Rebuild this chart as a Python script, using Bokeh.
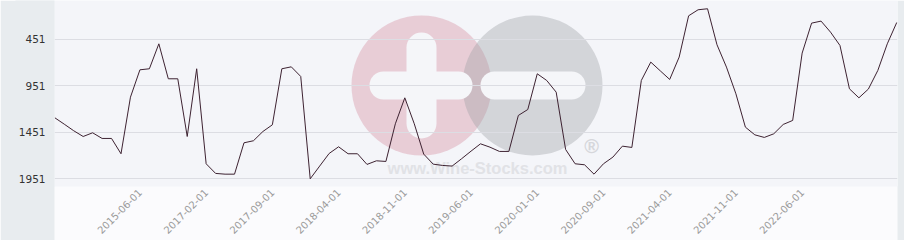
import math
from bokeh.plotting import figure
from bokeh.models import FixedTicker, Range1d, LinearAxis
from bokeh.embed import file_html
from bokeh.resources import INLINE
from bokeh.core.properties import value

# ---- data ----
ranks = [1295, 1364, 1435, 1497, 1457, 1518, 1518, 1683, 1073, 778,
         767, 498, 875, 875, 1497, 767, 1791, 1895, 1903, 1903,
         1565, 1543, 1443, 1371, 767, 746, 850, 1953, 1816, 1680,
         1608, 1683, 1683, 1798, 1759, 1766, 1360, 1080, 1360, 1687,
         1795, 1809, 1816, 1737, 1655, 1576, 1612, 1658, 1658, 1270,
         1206, 821, 893, 1019, 1637, 1791, 1802, 1903, 1791, 1719,
         1601, 1615, 893, 695, 789, 882, 641, 196, 131, 120,
         508, 749, 1037, 1396, 1479, 1507, 1468, 1367, 1324, 598,
         275, 253, 372, 516, 983, 1080, 986, 785, 498, 268]
idx = list(range(len(ranks)))
tick_pos = [9, 16, 23, 30, 37, 44, 51, 58, 65, 72, 79]
tick_labels = ["2015-06-01", "2017-02-01", "2017-09-01", "2018-04-01",
               "2018-11-01", "2019-06-01", "2020-01-01", "2020-09-01",
               "2021-04-01", "2021-11-01", "2022-06-01"]
y_ticks = [451, 951, 1451, 1951]

# ---- figure ----
X0, X1 = -0.03, 89.08
Y_BOTTOM, Y_TOP = 2036, 31
FL, FW, FH = 54, 843, 186
LIGHT = "#fbfbfd"
PANEL = "#e8ecef"
FRAME = "#f4f5f9"

p = figure(width=904, height=240, output_backend="svg", toolbar_location=None,
           x_range=Range1d(X0, X1), y_range=Range1d(Y_BOTTOM, Y_TOP),
           min_border_left=FL, min_border_right=904 - FL - FW,
           min_border_top=0, min_border_bottom=240 - FH)
p.background_fill_color = FRAME
p.border_fill_color = PANEL
p.outline_line_color = None

def sx(px):
    return X0 + (px - FL) / FW * (X1 - X0)

def sy(py):
    return Y_TOP + py / FH * (Y_BOTTOM - Y_TOP)

# ---- watermark (decoration) ----
r1 = p.scatter([sx(421)], [sy(85)], marker="circle", size=140,
               fill_color="#c8657f", fill_alpha=0.28, line_color=None)
r2 = p.scatter([sx(532)], [sy(85)], marker="circle", size=140,
               fill_color="#9ea0a6", fill_alpha=0.38, line_color=None)
r3 = p.line([sx(421), sx(421)], [sy(47), sy(123)], line_width=30,
            line_cap="round", line_color="#f5f6f9")
r4 = p.line([sx(383), sx(458)], [sy(85), sy(85)], line_width=28,
            line_cap="round", line_color="#f5f6f9")
r5 = p.line([sx(494), sx(571)], [sy(85), sy(85)], line_width=28,
            line_cap="round", line_color="#f5f6f9")
r6 = p.text([sx(477)], [sy(167)], text=["www.Wine-Stocks.com"],
            text_font=value("Liberation Sans"), text_font_style="bold",
            text_font_size="16.5px", text_color="#e1e2e6",
            text_align="center", text_baseline="middle")
r7 = p.text([sx(591)], [sy(145)], text=["®"],
            text_font=value("Liberation Sans"), text_font_style="bold",
            text_font_size="20px", text_color="#d6d7db",
            text_align="center", text_baseline="middle")
for r in (r1, r2, r3, r4, r5, r6, r7):
    r.level = "image"

# ---- data line ----
p.line(idx, ranks, line_color="#3d2231", line_width=1)

# ---- axes ----
p.xgrid.grid_line_color = None
p.ygrid.grid_line_color = "#dcdde3"
p.ygrid.grid_line_width = 1

p.yaxis.ticker = FixedTicker(ticks=y_ticks)
p.yaxis.minor_tick_line_color = None
p.yaxis.major_tick_line_color = None
p.yaxis.major_tick_out = 0
p.yaxis.major_tick_in = 0
p.yaxis.axis_line_color = None
p.yaxis.major_label_standoff = 9
p.yaxis.major_label_text_font = "DejaVu Sans"
p.yaxis.major_label_text_font_size = "10.5px"
p.yaxis.major_label_text_color = "#333333"
p.yaxis.background_fill_color = PANEL

p.xaxis.ticker = FixedTicker(ticks=tick_pos)
p.xaxis.major_label_overrides = {t: l for t, l in zip(tick_pos, tick_labels)}
p.xaxis.major_label_orientation = math.pi / 4
p.xaxis.minor_tick_line_color = None
p.xaxis.major_tick_line_color = None
p.xaxis.major_tick_out = 0
p.xaxis.major_tick_in = 0
p.xaxis.axis_line_color = None
p.xaxis.major_label_standoff = 4
p.xaxis.major_label_text_font = "DejaVu Sans"
p.xaxis.major_label_text_font_size = "10px"
p.xaxis.major_label_text_color = "#9a9a9a"
p.xaxis.background_fill_color = LIGHT

# empty right axis used only to give the right margin the frame colour
ra = LinearAxis(ticker=FixedTicker(ticks=[]), major_tick_line_color=None,
                minor_tick_line_color=None, axis_line_color=None,
                major_tick_out=0, major_tick_in=0, minor_tick_out=0,
                major_label_standoff=0, background_fill_color=FRAME)
p.add_layout(ra, "right")

open("out.html", "w").write(file_html(p, INLINE))
